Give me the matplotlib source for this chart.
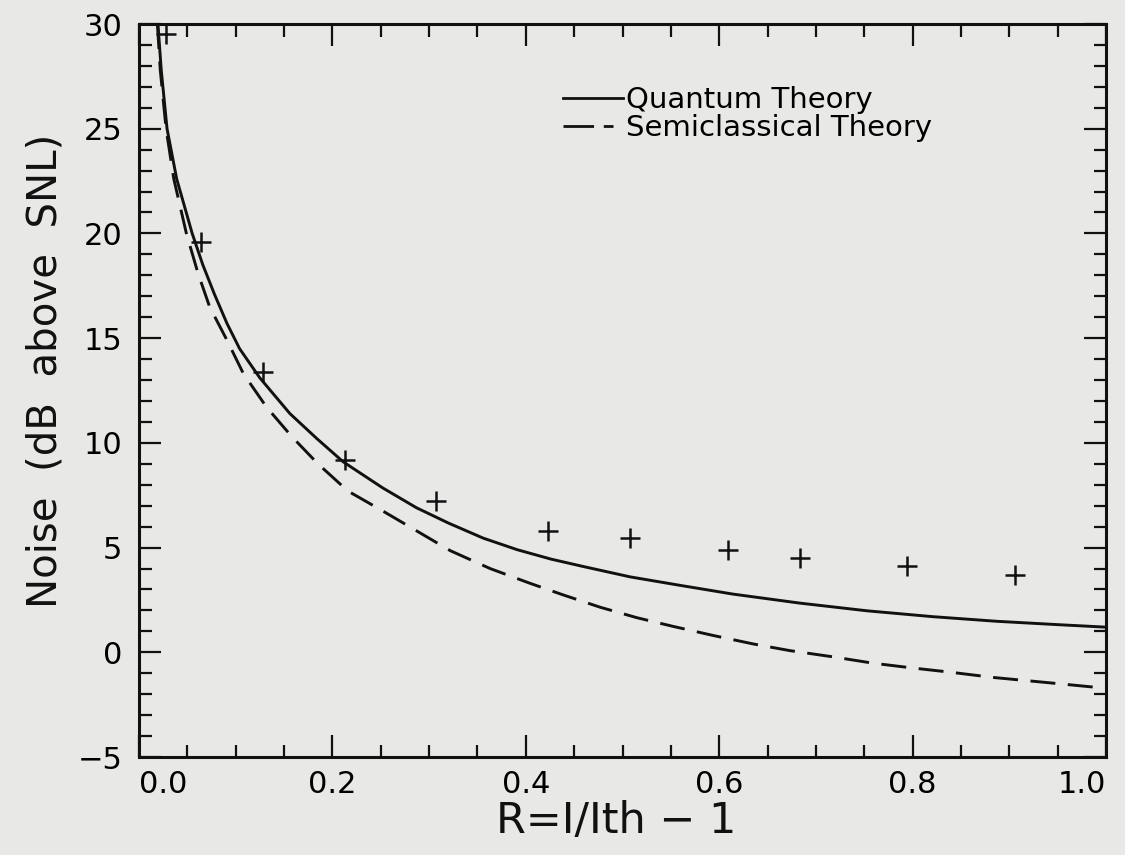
import matplotlib
matplotlib.use("Agg")
import matplotlib.pyplot as plt
from matplotlib.lines import Line2D
from matplotlib.ticker import MultipleLocator, FixedLocator

# ---- data ----
quantum_x = [0.0196, 0.023, 0.029, 0.039, 0.055, 0.066, 0.078, 0.091, 0.104, 0.125,
             0.156, 0.184, 0.211, 0.252, 0.287, 0.32, 0.356, 0.391, 0.426, 0.459,
             0.508, 0.559, 0.614, 0.683, 0.753, 0.821, 0.887, 0.95, 1.0]
quantum_y = [30.0, 27.8, 25.0, 22.6, 20.0, 18.5, 17.1, 15.7, 14.5, 13.1,
             11.4, 10.2, 9.1, 7.85, 6.9, 6.17, 5.45, 4.9, 4.45, 4.1,
             3.6, 3.2, 2.78, 2.35, 1.98, 1.7, 1.48, 1.32, 1.2]

semi_x = [0.019, 0.022, 0.028, 0.036, 0.049, 0.061, 0.073, 0.091, 0.108, 0.132,
          0.158, 0.185, 0.216, 0.252, 0.287, 0.322, 0.363, 0.404, 0.438, 0.477,
          0.515, 0.552, 0.594, 0.635, 0.673, 0.718, 0.759, 0.8, 0.839, 0.883,
          0.94, 1.0]
semi_y = [30.0, 27.8, 25.0, 22.6, 20.0, 18.1, 16.5, 14.9, 13.3, 11.7,
          10.3, 9.0, 7.7, 6.75, 5.8, 4.85, 4.0, 3.3, 2.75, 2.15,
          1.65, 1.24, 0.8, 0.4, 0.08, -0.22, -0.52, -0.75, -0.95, -1.2,
          -1.45, -1.72]

exp_x = [0.028, 0.064, 0.128, 0.213, 0.307, 0.423, 0.508, 0.609, 0.684, 0.794, 0.906]
exp_y = [29.5, 19.6, 13.4, 9.2, 7.2, 5.8, 5.45, 4.9, 4.5, 4.12, 3.7]

xticks = [0.0, 0.2, 0.4, 0.6, 0.8, 1.0]
xticklabels = ["0.0", "0.2", "0.4", "0.6", "0.8", "1.0"]
yticks = [-5, 0, 5, 10, 15, 20, 25, 30]

bg = "#e8e8e6"
ink = "#111111"
plt.rcParams["font.family"] = ["DejaVu Sans"]
plt.rcParams["lines.scale_dashes"] = False

fig = plt.figure(figsize=(11.25, 8.55), dpi=100, facecolor=bg)
ax = fig.add_axes([139/1125, 1-757/855, (1106-139)/1125, (757-24)/855])
ax.set_facecolor(bg)

ax.plot(quantum_x, quantum_y, color=ink, lw=2.1, solid_joinstyle="round")
ax.plot(semi_x, semi_y, color=ink, lw=2.1, dashes=(18, 9))
ax.plot(exp_x, exp_y, linestyle="none", marker="+", markersize=14,
        markeredgewidth=1.8, color=ink)

ax.set_xlim(0, 1.0)
ax.set_ylim(-5, 30)
ax.xaxis.set_major_locator(FixedLocator(xticks))
ax.xaxis.set_minor_locator(MultipleLocator(0.05))
ax.yaxis.set_major_locator(FixedLocator(yticks))
ax.yaxis.set_minor_locator(MultipleLocator(1))
ax.tick_params(which="both", direction="in", top=True, right=True, color=ink)
ax.tick_params(which="major", length=16, width=1.6)
ax.tick_params(which="minor", length=9, width=1.6)
ax.tick_params(axis="y", which="major", labelsize=22, pad=12)
ax.tick_params(axis="x", which="major", labelsize=22, pad=9)
for s in ax.spines.values():
    s.set_linewidth(2.2)
    s.set_color(ink)

ax.set_xticklabels(xticklabels)
labs = ax.get_xticklabels()
labs[0].set_ha("left")
labs[-1].set_ha("right")

ax.set_ylabel("Noise  (dB  above  SNL)", fontsize=29, color=ink)
ax.yaxis.set_label_coords((66-139)/967, (757-371)/733)
ax.set_xlabel("R=I/Ith \u2212 1", fontsize=31, color=ink)
ax.xaxis.set_label_coords((616-139)/967, (757-800)/733)

h1 = Line2D([], [], color=ink, lw=2.0)
h2 = Line2D([], [], color=ink, lw=2.0, dashes=(22, 7, 7, 100))
leg = ax.legend([h1, h2], ["Quantum Theory", "Semiclassical Theory"],
                loc="upper left", bbox_to_anchor=(563/1125, 1-86/855),
                bbox_transform=fig.transFigure, frameon=False, fontsize=21,
                handlelength=2.05, handletextpad=0.1, labelspacing=0.0,
                borderpad=0, borderaxespad=0)

fig.savefig("out.png", dpi=100, facecolor=bg)
